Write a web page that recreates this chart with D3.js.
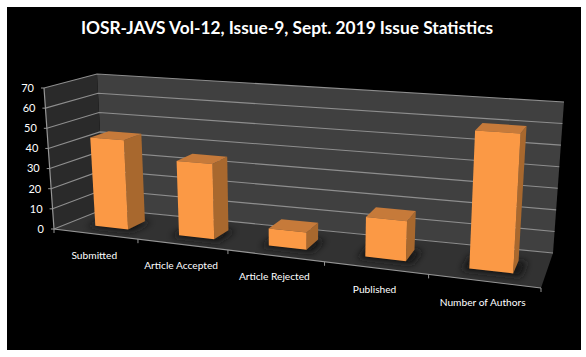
<!DOCTYPE html>
<html>
<head>
<meta charset="utf-8">
<script src="https://cdn.jsdelivr.net/npm/d3@7/dist/d3.min.js"></script>
<style>
html, body { margin: 0; padding: 0; background: #fff; }
svg { display: block; }
text { font-family: Lato, "Open Sans", sans-serif; fill: #fff; }
</style>
</head>
<body>
<div class="canva"></div>
<script>
const titleText = "IOSR-JAVS Vol-12, Issue-9, Sept. 2019 Issue Statistics";
const categories = ["Submitted", "Article Accepted", "Article Rejected", "Published", "Number of Authors"];
const values = [44, 36, 8, 18, 61];
const valueTicks = [0, 10, 20, 30, 40, 50, 60, 70];

const width = 586, height = 357;

const svg = d3.select(".canva").append("svg")
    .attr("width", width)
    .attr("height", height);

// camera: where the corners of the plot box land on screen
const corners = {
    fbl: [54, 229], ftl: [44, 88], bbl: [104, 209], btl: [97, 74],
    fbr: [541, 288], ftr: [550, 121], bbr: [553, 253], btr: [564, 102]
};
const leftWeight = 1.2, backWeight = 0.93;

function project(u, v, h) {
    const names = [["fbl", 1 - u, 1 - v, 1 - h], ["ftl", 1 - u, 1 - v, h], ["bbl", 1 - u, v, 1 - h], ["btl", 1 - u, v, h],
                   ["fbr", u, 1 - v, 1 - h], ["ftr", u, 1 - v, h], ["bbr", u, v, 1 - h], ["btr", u, v, h]];
    let x = 0, y = 0, w = 0;
    names.forEach(([n, a, b, c]) => {
        const cw = a * b * c * (n[2] === "l" ? leftWeight : 1) * (n[0] === "b" ? backWeight : 1);
        x += cw * corners[n][0];
        y += cw * corners[n][1];
        w += cw;
    });
    return [x / w, y / w];
}

const xBand = d3.scaleBand().domain(categories).range([0, 1]).paddingInner(0.6).paddingOuter(0.3);
const yValue = d3.scaleLinear().domain([0, 70]).range([0, 1]);
const depthFront = 0.33, depthBack = 0.7;
const barShift = 0.004;

const poly = d3.line().curve(d3.curveLinearClosed);

svg.append("rect").attr("x", 7).attr("y", 7).attr("width", 574).attr("height", 343).attr("fill", "#000");

const defs = svg.append("defs");
defs.append("filter").attr("id", "soft")
    .attr("x", "-30%").attr("y", "-60%").attr("width", "160%").attr("height", "220%")
    .append("feGaussianBlur").attr("stdDeviation", 3.5);

// walls and floor
const graph = svg.append("g");
graph.append("path").attr("d", poly([project(0, 1, 0), project(0, 1, 1), project(1, 1, 1), project(1, 1, 0)])).attr("fill", "#404040");
graph.append("path").attr("d", poly([project(0, 0, 0), project(0, 0, 1), project(0, 1, 1), project(0, 1, 0)])).attr("fill", "#2a2a2a");
graph.append("path").attr("d", poly([project(0, 0, 0), project(1, 0, 0), project(1, 1, 0), project(0, 1, 0)])).attr("fill", "#323232");

// gridlines run along the side wall then the back wall
graph.selectAll(".grid").data(valueTicks).enter().append("path")
    .attr("class", "grid")
    .attr("d", d => {
        const h = yValue(d);
        return d3.line()([project(0, 0, h), project(0, 1, h), project(1, 1, h)]);
    })
    .attr("fill", "none")
    .attr("stroke", "#8e8e8e")
    .attr("stroke-width", 1.1);

// axis lines and ticks
const axisColor = "#969696";
graph.append("path").attr("d", d3.line()([project(0, 0, 1), project(0, 0, 0), project(1, 0, 0)]))
    .attr("fill", "none").attr("stroke", axisColor).attr("stroke-width", 1.2);

graph.selectAll(".ytick").data(valueTicks).enter().append("path")
    .attr("class", "ytick")
    .attr("d", d => {
        const p = project(0, 0, yValue(d));
        return d3.line()([[p[0] - 3, p[1]], p]);
    })
    .attr("stroke", axisColor);

graph.selectAll(".ylabel").data(valueTicks).enter().append("text")
    .attr("class", "ylabel")
    .attr("x", d => project(0, 0, yValue(d))[0] - 10)
    .attr("y", d => project(0, 0, yValue(d))[1])
    .attr("dy", "0.35em")
    .attr("text-anchor", "end")
    .attr("font-size", 11)
    .text(d => d);

const edgeTicks = d3.range(categories.length + 1).map(i => i / categories.length);
graph.selectAll(".xtick").data(edgeTicks).enter().append("path")
    .attr("class", "xtick")
    .attr("d", d => {
        const p = project(d, 0, 0);
        return d3.line()([p, [p[0], p[1] + 4]]);
    })
    .attr("stroke", axisColor);

graph.selectAll(".xlabel").data(categories).enter().append("text")
    .attr("class", "xlabel")
    .attr("x", d => project(xBand(d) + xBand.bandwidth() / 2, 0, 0)[0] - 1)
    .attr("y", d => project(xBand(d) + xBand.bandwidth() / 2, 0, 0)[1] + 21)
    .attr("dy", "0.35em")
    .attr("text-anchor", "middle")
    .attr("font-size", 10.2)
    .text(d => d);

// shadows on the floor
graph.selectAll(".shadow").data(categories).enter().append("path")
    .attr("class", "shadow")
    .attr("d", d => {
        const a = xBand(d) + barShift, b = a + xBand.bandwidth();
        return poly([project(a - 0.012, depthFront - 0.08, 0), project(b + 0.016, depthFront - 0.08, 0),
                     project(b + 0.016, depthBack, 0), project(a - 0.012, depthBack, 0)]);
    })
    .attr("fill", "#161616")
    .attr("filter", "url(#soft)");

// bars, each with top, side and front face
const bars = graph.selectAll(".bar").data(categories).enter().append("g").attr("class", "bar");

bars.append("path")
    .attr("fill", "#a8682e")
    .attr("d", (d, i) => {
        const b = xBand(d) + barShift + xBand.bandwidth(), h = yValue(values[i]);
        return poly([project(b, depthFront, 0), project(b, depthFront, h), project(b, depthBack, h), project(b, depthBack, 0)]);
    });

bars.append("path")
    .attr("fill", "#c67a3a")
    .attr("d", (d, i) => {
        const a = xBand(d) + barShift, b = a + xBand.bandwidth(), h = yValue(values[i]);
        return poly([project(a, depthFront, h), project(b, depthFront, h), project(b, depthBack, h), project(a, depthBack, h)]);
    });

bars.append("path")
    .attr("fill", "#fb9945")
    .attr("d", (d, i) => {
        const a = xBand(d) + barShift, b = a + xBand.bandwidth(), h = yValue(values[i]);
        return poly([project(a, depthFront, 0), project(b, depthFront, 0), project(b, depthFront, h), project(a, depthFront, h)]);
    });

svg.append("text")
    .attr("x", 287)
    .attr("y", 28)
    .attr("dy", "0.35em")
    .attr("text-anchor", "middle")
    .attr("font-size", 17.3)
    .attr("font-weight", 700)
    .text(titleText);
</script>
</body>
</html>
